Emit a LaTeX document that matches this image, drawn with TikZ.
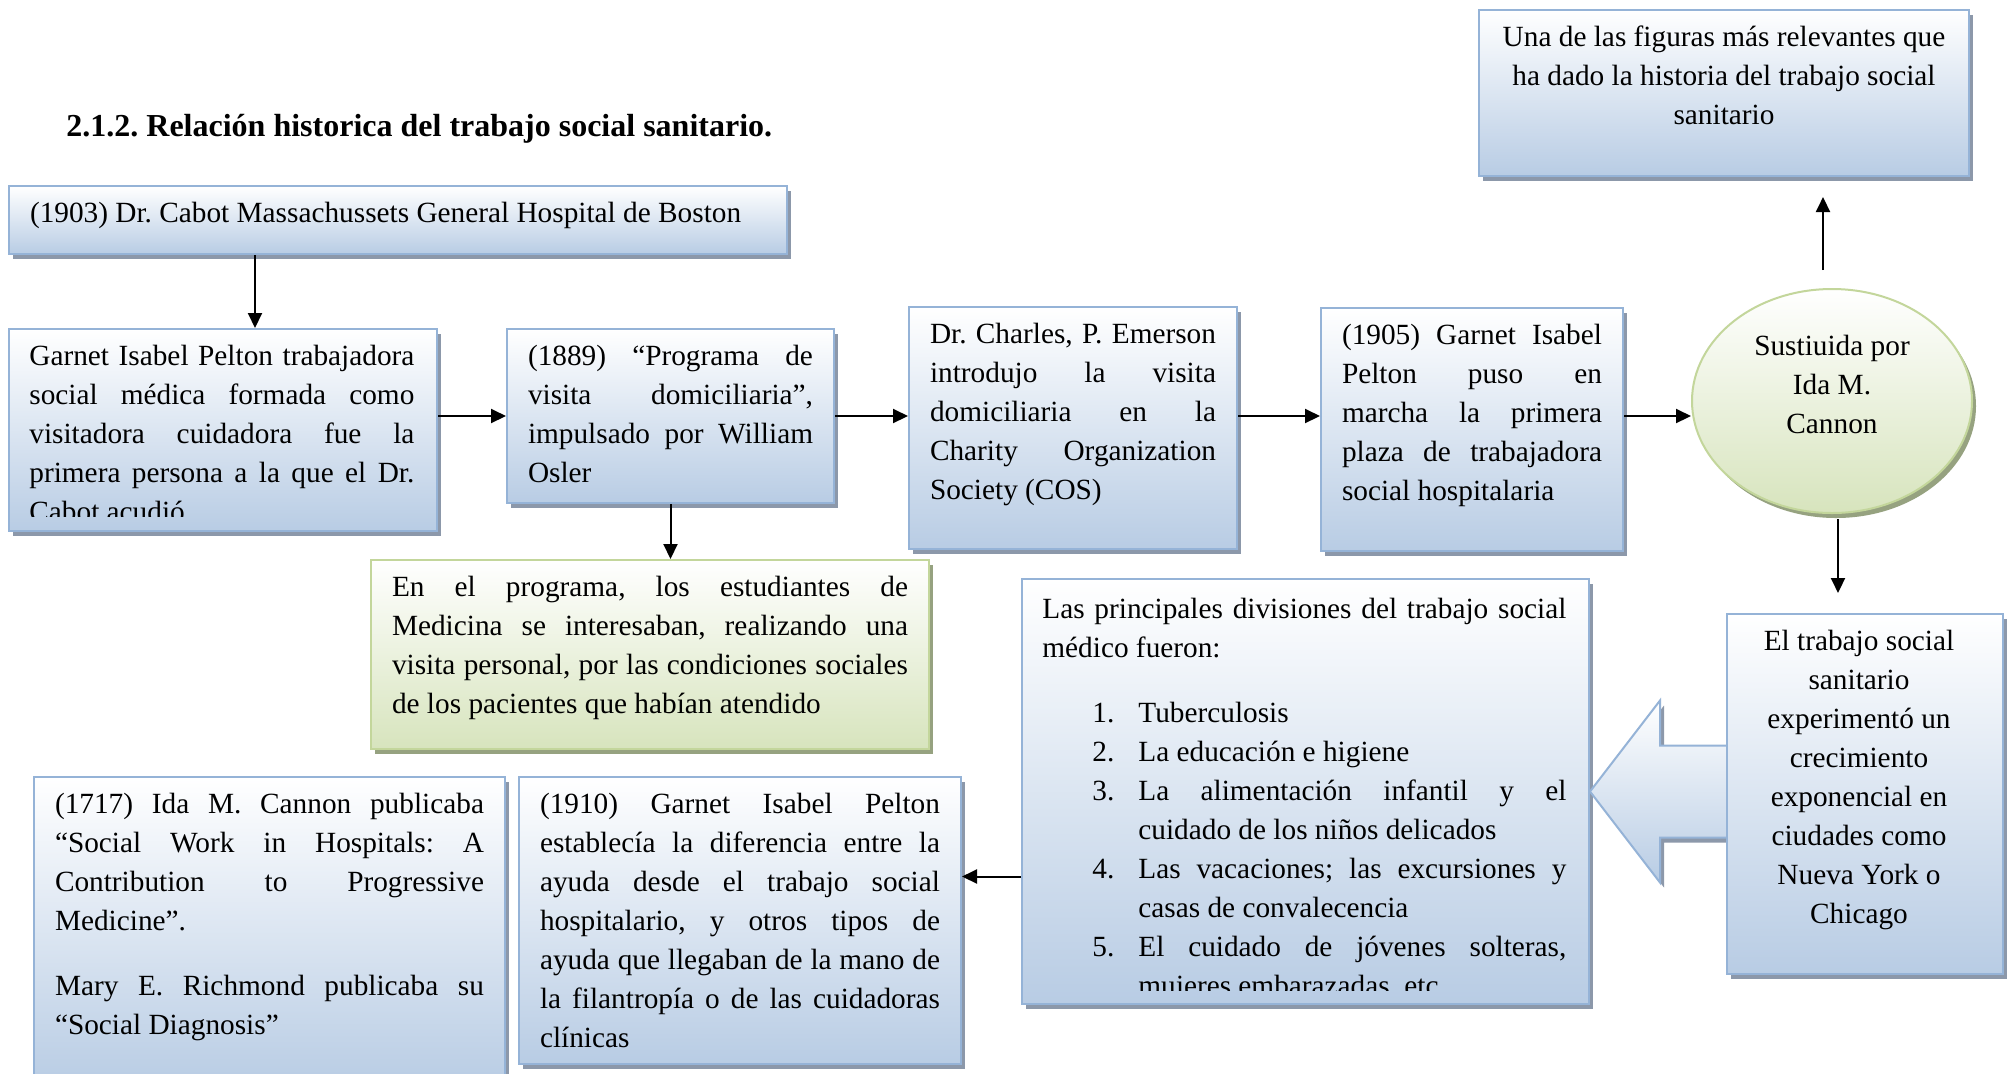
\documentclass[tikz,border=0pt]{standalone}
\usepackage{fontspec}
\setmainfont{Liberation Serif}
\usetikzlibrary{arrows.meta,shapes.geometric,shadows}

\definecolor{boxblue}{RGB}{184,204,228}
\definecolor{boxline}{RGB}{149,179,215}
\definecolor{boxgreen}{RGB}{215,228,189}
\definecolor{greenline}{RGB}{195,214,155}
\definecolor{shadeblue}{RGB}{140,152,170}
\definecolor{shadegreen}{RGB}{150,162,128}

\begin{document}
\begin{tikzpicture}[
    x=0.5pt, y=-0.5pt,
    font=\fontsize{14.65}{19.5}\selectfont\frenchspacing,
    >={Triangle[length=7.5pt,width=7pt]},
    card/.style={line width=1pt, anchor=north west, inner xsep=10.5pt, inner ysep=8pt},
    box/.style={card, draw=boxline, top color=white, bottom color=boxblue,
                drop shadow={shadow xshift=2pt, shadow yshift=-2.5pt,
                             fill=shadeblue, opacity=1}},
    gbox/.style={card, draw=greenline, top color=white, bottom color=boxgreen,
                 drop shadow={shadow xshift=2pt, shadow yshift=-2.5pt,
                              fill=shadegreen, opacity=1}},
    cut/.style={anchor=north west, inner sep=0pt},
    link/.style={->, line width=1pt},
]

\path[use as bounding box, fill=white] (0,0) rectangle (2008,1073);

%% ---- TITLE ----
\node[anchor=base west, inner sep=0pt,
      font=\fontsize{16}{19.5}\selectfont\bfseries\frenchspacing]
    (title) at (66,136) {2.1.2. Relación historica del trabajo social sanitario.};

%% ---- TOP ROW ----
\node[box] (cabot) at (8,185)
    {\parbox[c][18pt][t]{368pt}{(1903) Dr. Cabot Massachussets General Hospital de Boston}};

\node[box, minimum width=214pt, minimum height=101pt] (garnet) at (8,328) {};
% text runs past the bottom of the box, cut as in the original
\begin{scope}
  \clip ([yshift=8pt]garnet.south west) rectangle (garnet.north east);
  \node[cut] (garnettext) at ([shift={(10.5pt,-8.5pt)}]garnet.north west)
    {\parbox[t]{192.5pt}{Garnet Isabel Pelton trabajadora \linebreak
     social médica formada como \linebreak visitadora cuidadora fue la \linebreak
     primera persona a la que el Dr. \linebreak Cabot acudió}};
\end{scope}

\node[box] (osler) at (506,328)
    {\parbox[c][71pt][t]{142.5pt}{(1889) “Programa de \linebreak visita domiciliaria”,
     \linebreak impulsado por William \linebreak Osler}};

\node[box] (emerson) at (908,306)
    {\parbox[c][105pt][t]{143pt}{Dr. Charles, P. Emerson \linebreak introdujo la visita
     \linebreak domiciliaria en la \linebreak Charity Organization \linebreak Society (COS)}};

\node[box] (pelton) at (1320,307)
    {\parbox[c][105.5pt][t]{130pt}{(1905) Garnet Isabel \linebreak Pelton puso en
     \linebreak marcha la primera \linebreak plaza de trabajadora \linebreak social hospitalaria}};

\node[ellipse, draw=greenline, line width=1pt, top color=white, bottom color=boxgreen,
      drop shadow={shadow xshift=2pt, shadow yshift=-2.5pt, fill=shadegreen, opacity=1},
      minimum width=140pt, minimum height=112pt, inner sep=0pt,
      align=center, text depth=17pt]
    (cannon) at (1832,401) {Sustiuida por\\Ida M.\\Cannon};

\node[box] (figure) at (1478,9)
    {\parbox[c][67pt][t]{224pt}{\centering Una de las figuras más relevantes que\\
     ha dado la historia del trabajo social\\sanitario}};

%% ---- MIDDLE ----
\node[gbox] (prog) at (370,559)
    {\parbox[c][78.5pt][t]{258pt}{En el programa, los estudiantes de \linebreak
     Medicina se interesaban, realizando una \linebreak visita personal, por las condiciones
     sociales \linebreak de los pacientes que habían atendido}};

\node[box, minimum width=283.5pt, minimum height=212.5pt] (divs) at (1021,578) {};
\begin{scope}
  \clip ([yshift=7.5pt]divs.south west) rectangle (divs.north east);
  \node[cut] (divstext) at ([shift={(10.5pt,-10pt)}]divs.north west)
    {\parbox[t]{262pt}{Las principales divisiones del trabajo social \linebreak
     médico fueron:\par\vspace{13pt}
     \hangindent=48pt\hangafter=1\hspace*{25pt}\makebox[23pt][l]{1.}Tuberculosis\par
     \hangindent=48pt\hangafter=1\hspace*{25pt}\makebox[23pt][l]{2.}La educación e higiene\par
     \hangindent=48pt\hangafter=1\hspace*{25pt}\makebox[23pt][l]{3.}La alimentación
       infantil y el \linebreak cuidado de los niños delicados\par
     \hangindent=48pt\hangafter=1\hspace*{25pt}\makebox[23pt][l]{4.}Las vacaciones; las
       excursiones y \linebreak casas de convalecencia\par
     \hangindent=48pt\hangafter=1\hspace*{25pt}\makebox[23pt][l]{5.}El cuidado de
       jóvenes solteras, \linebreak mujeres embarazadas, etc.}};
\end{scope}

%% block arrow from the right box into the list
\draw[draw=boxline, line width=1pt, top color=white, bottom color=boxblue,
      drop shadow={shadow xshift=2pt, shadow yshift=-2.5pt, fill=shadeblue, opacity=1}]
    (divs.east) -- ++(35pt,45.5pt) -- ++(0pt,-22.5pt) -- ++(36pt,0pt) -- ++(0pt,-46pt)
    -- ++(-36pt,0pt) -- ++(0pt,-22.5pt) -- cycle;

\node[box] (growth) at (1726,613)
    {\parbox[c][164pt][t]{117pt}{\centering\advance\leftskip-6pt
     El trabajo social\\sanitario\\experimentó un\\crecimiento\\exponencial en\\
     ciudades como\\Nueva York o\\Chicago}};

%% ---- BOTTOM ROW ----
\node[box] (diff) at (518,776)
    {\parbox[c][127.5pt][t]{200pt}{(1910) Garnet Isabel Pelton \linebreak establecía la
     diferencia entre la \linebreak ayuda desde el trabajo social \linebreak hospitalario, y otros
     tipos de \linebreak ayuda que llegaban de la mano de \linebreak la filantropía o de las
     cuidadoras \linebreak clínicas}};

\node[box] (richmond) at (33,776)
    {\parbox[c][139pt][t]{214.5pt}{(1717) Ida M. Cannon publicaba \linebreak “Social Work in
     Hospitals: A \linebreak Contribution to Progressive \linebreak Medicine”.\par\vspace{13pt}
     Mary E. Richmond publicaba su \linebreak “Social Diagnosis”}};

%% ---- ARROWS ----
\coordinate (dwn) at ([xshift=16pt]garnet.north);
\draw[link] (dwn |- cabot.south) -- (dwn);

\coordinate (row) at (osler.east);
\draw[link] (garnet.east |- row) -- (osler.west);
\draw[link] (osler.east) -- (row -| emerson.west);
\draw[link] (emerson.east |- row) -- (row -| pelton.west);
\draw[link] (pelton.east |- row) -- (row -| cannon.west);

\coordinate (up) at ([xshift=-4.5pt]cannon.north);
\draw[link, shorten <=9pt, shorten >=10pt] (up) -- (up |- figure.south);

\coordinate (dn) at ([xshift=3pt]cannon.south);
\draw[link, shorten <=2.5pt, shorten >=10pt] (dn) -- (dn |- growth.north);

\draw[link] (osler.south) -- (osler.south |- prog.north);

\coordinate (lft) at ([yshift=-42.5pt]divs.west);
\draw[link] (lft) -- (lft -| diff.east);

\end{tikzpicture}
\end{document}
